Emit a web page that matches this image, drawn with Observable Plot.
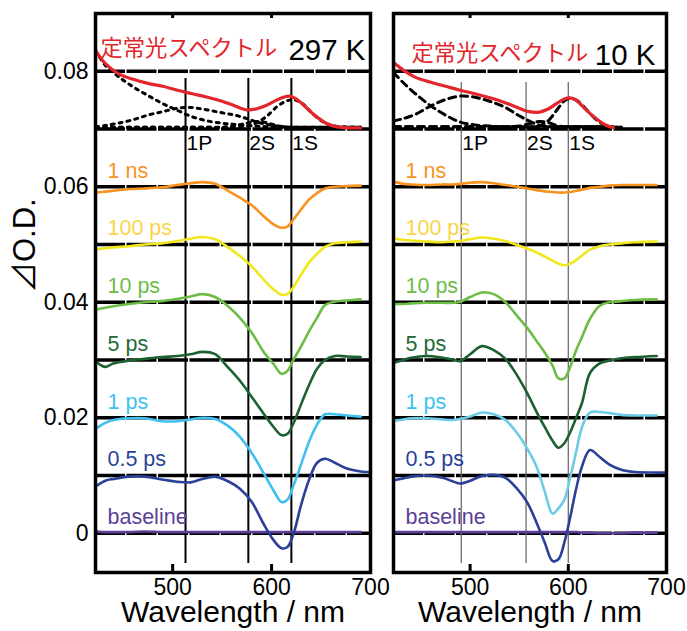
<!DOCTYPE html>
<html><head><meta charset="utf-8">
<script src="https://cdn.jsdelivr.net/npm/d3@7"></script>
<script src="https://cdn.jsdelivr.net/npm/@observablehq/plot@0.6"></script>
<style>
html,body{margin:0;padding:0;background:#fff;}
#wrap{position:relative;width:687px;height:631px;overflow:hidden;background:#fff;}
#wrap svg{position:absolute;top:0;}
</style></head><body><div id="wrap"></div>
<script>
// ---------- data ----------
const seriesNames = ["baseline", "0.5 ps", "1 ps", "5 ps", "10 ps", "100 ps", "1 ns"];
const seriesOffsets = [0, 0.01, 0.02, 0.03, 0.04, 0.05, 0.06];
const labelColors = ["#5b3f98", "#2b3f98", "#3dc2f0", "#1d6a36", "#6cbd45", "#f9d448", "#f7931e"];
const traceColors297 = ["#5b3f98", "#2b4199", "#3ec1ef", "#1c6331", "#6cbd45", "#f0e81c", "#f7931e"];
const traceColors10 = ["#5b3f98", "#2a3f98", "#6ccbe6", "#1a6030", "#6cbd45", "#f0e81c", "#f7931e"];
const gridLevels = [0, 0.01, 0.02, 0.03, 0.04, 0.05, 0.06, 0.07, 0.08];
const yTicks = [0, 0.02, 0.04, 0.06, 0.08];
const xTicks = [500, 600, 700];
const stateNames = ["1P", "2S", "1S"];
const states297 = [513, 576.5, 620];
const states10 = [491, 557, 600];
const steadyLevel = 0.07;

// 297 K transient spectra (ΔO.D. in 1e-3, relative to each offset)
const wl297 = [424, 432, 440, 456, 472, 489, 505, 518, 530, 543, 556, 568, 580, 592, 602, 610, 616, 622, 630, 638, 646, 654, 664, 676, 690, 700];
const base297 = [0.3, 0.2, 0.2, 0.2, 0.3, 0.2, 0.2, 0.2, 0.2, 0.2, 0.2, 0.2, 0.2, 0.2, 0.2, 0.2, 0.2, 0.2, 0.2, 0.2, 0.2, 0.2, 0.2, 0.2, 0.2, null];
const ps05_297 = [-1.7, -0.9, -0.6, -0.2, -0.2, -0.7, -1.1, -1.2, -0.6, -0.2, -1.0, -2.3, -4.6, -8.4, -11.2, -12.6, -12.4, -10.2, -5.0, -0.7, 2.2, 2.9, 2.2, 1.2, 0.7, 0.6];
const ps1_297 = [-1.7, -0.9, -0.4, -0.1, -0.1, -0.6, -0.6, -0.3, 0.0, -0.2, -1.4, -3.3, -6.1, -9.6, -12.6, -14.6, -14.2, -11.8, -8.0, -4.1, -1.2, 0.6, 0.6, 0.4, 0.2, null];
const ps5_297 = [-0.5, -1.2, -0.6, -0.1, 0.2, 0.5, 0.7, 1.0, 1.4, 1.0, -1.3, -3.6, -6.4, -9.3, -11.6, -13.0, -12.8, -11.0, -7.6, -4.3, -1.5, 0.0, 0.7, 0.6, 0.5, null];
const ps10_297 = [-1.2, -0.95, -0.7, -0.3, 0.0, 0.2, 0.6, 1.0, 1.4, 0.9, -0.7, -2.7, -5.3, -8.6, -10.7, -12.4, -11.9, -10.0, -7.6, -5.0, -2.7, -0.5, 0.1, 0.3, 0.5, null];
const ps100_297 = [-0.8, -0.65, -0.5, -0.3, 0.0, 0.2, 0.6, 1.0, 1.3, 0.9, -0.5, -2.0, -3.8, -6.1, -7.8, -8.7, -8.6, -7.4, -5.2, -3.1, -1.6, -0.4, 0.2, 0.4, 0.5, null];
const ns1_297 = [-1.0, -0.85, -0.7, -0.4, -0.3, -0.1, 0.3, 0.6, 0.8, 0.5, -0.7, -1.9, -3.2, -5.1, -6.5, -7.1, -6.9, -5.7, -3.9, -2.2, -1.1, -0.3, 0.0, 0.1, 0.2, null];

// 10 K transient spectra
const wl10 = [424, 432, 440, 456, 472, 482, 490, 500, 512, 524, 536, 548, 558, 568, 576, 584, 590, 596, 602, 608, 614, 622, 632, 642, 654, 668, 690, 700];
const base10 = [0.2, 0.2, 0.2, 0.2, 0.2, 0.2, 0.2, 0.2, 0.2, 0.2, 0.2, 0.2, 0.2, 0.2, 0.2, 0.2, 0.2, 0.2, 0.2, 0.2, 0.1, 0.1, 0.0, 0.0, 0.0, 0.1, 0.1, null];
const ps05_10 = [-0.8, -0.5, -0.2, 0.0, -0.4, -1.0, -1.4, -0.9, -0.1, 0.1, -0.4, -2.3, -4.6, -8.3, -11.6, -14.8, -14.5, -11.6, -7.2, -2.3, 1.6, 4.4, 3.2, 1.9, 1.0, 0.6, 0.5, 0.5];
const ps1_10 = [-0.5, -0.3, -0.1, -0.1, -0.3, -0.4, -0.2, 0.2, 0.9, 0.6, -0.4, -2.7, -5.3, -8.6, -12.8, -16.6, -15.7, -14.2, -10.3, -5.9, -1.6, 0.9, 1.0, 0.8, 0.5, 0.4, 0.4, null];
const ps5_10 = [-0.4, 0.0, 0.4, 0.7, 0.4, 0.1, -0.2, 1.0, 2.4, 1.7, 0.2, -2.7, -5.7, -9.1, -11.6, -14.0, -15.2, -14.4, -12.5, -10.0, -7.4, -2.3, -0.6, -0.1, 0.3, 0.5, 0.7, null];
const ps10_10 = [-0.3, -0.3, -0.2, -0.1, -0.1, -0.1, 0.1, 0.9, 1.7, 1.4, 0.0, -2.4, -4.4, -6.8, -8.7, -11.0, -13.2, -13.2, -11.2, -8.3, -6.0, -2.9, -0.6, 0.0, 0.2, 0.4, 0.5, null];
const ps100_10 = [1.0, 0.8, 0.7, 0.5, 0.4, 0.5, 0.6, 0.9, 1.2, 1.0, 0.6, -0.1, -0.7, -1.4, -2.1, -2.8, -3.3, -3.6, -3.3, -2.7, -1.9, -0.9, -0.3, 0.0, 0.2, 0.4, 0.5, null];
const ns1_10 = [0.8, 0.5, 0.4, 0.3, 0.4, 0.4, 0.5, 0.7, 0.8, 0.6, 0.3, 0.0, -0.3, -0.6, -0.8, -0.9, -1.0, -1.0, -0.9, -0.7, -0.5, -0.2, 0.0, 0.2, 0.3, 0.3, 0.3, null];

// steady-state spectra (1e-3 above the 0.07 level) and fitted components
const wlS297 = [422, 432, 445, 460, 475, 490, 505, 520, 535, 550, 563, 575, 585, 595, 605, 612, 618, 624, 632, 640, 648, 656, 665, 678, 690];
const steady297 = [13.6, 11.3, 9.6, 8.6, 7.9, 7.4, 6.7, 6.1, 5.5, 4.8, 4.0, 3.3, 3.5, 4.1, 5.0, 5.5, 5.7, 5.3, 4.2, 2.9, 1.8, 0.9, 0.4, 0.2, 0.2];
const compDecay297 = [13.6, 11.0, 9.1, 7.3, 5.8, 4.4, 3.2, 2.1, 1.4, 1.0, 0.8, 0.6, 0.5, 0.4, 0.4, 0.3, 0.3, 0.3, 0.3, 0.3, 0.3, 0.3, 0.3, 0.3, 0.3];
const comp1P297 = [0.4, 0.6, 1.0, 1.6, 2.4, 3.0, 3.6, 3.7, 3.3, 2.8, 2.4, 1.8, 1.2, 0.8, 0.5, 0.4, 0.3, 0.3, 0.3, 0.3, 0.3, 0.3, 0.3, 0.3, 0.3];
const comp2S297 = [0.3, 0.3, 0.3, 0.3, 0.3, 0.3, 0.3, 0.3, 0.3, 0.3, 0.6, 1.0, 1.3, 1.1, 0.6, 0.4, 0.3, 0.3, 0.3, 0.3, 0.3, 0.3, 0.3, 0.3, 0.3];
const comp1S297 = [0.3, 0.3, 0.3, 0.3, 0.3, 0.3, 0.3, 0.3, 0.3, 0.3, 0.3, 0.5, 1.1, 2.2, 3.8, 4.6, 5.0, 5.0, 4.3, 2.9, 1.7, 0.9, 0.5, 0.3, 0.3];

const wlS10 = [422, 432, 445, 460, 475, 490, 505, 520, 535, 550, 560, 570, 580, 588, 596, 602, 608, 614, 622, 630, 638, 646, 654];
const steady10 = [11.5, 10.2, 8.9, 8.1, 7.4, 6.7, 6.1, 5.4, 4.6, 3.6, 3.0, 2.9, 3.5, 4.4, 5.2, 5.4, 5.0, 4.0, 2.7, 1.6, 0.7, 0.2, null];
const compDecay10 = [9.8, 8.0, 6.0, 4.0, 2.4, 1.2, 0.7, 0.5, 0.4, 0.4, 0.4, 0.4, 0.4, 0.4, 0.4, 0.4, 0.4, 0.4, 0.4, 0.4, 0.3, 0.3, 0.3];
const comp1P10 = [1.4, 1.8, 2.6, 4.0, 5.1, 5.7, 5.5, 4.8, 3.8, 2.3, 1.4, 0.7, 0.4, 0.4, 0.4, 0.4, 0.4, 0.4, 0.4, 0.4, 0.3, 0.3, 0.3];
const comp2S10 = [0.4, 0.4, 0.4, 0.4, 0.4, 0.4, 0.4, 0.4, 0.4, 0.5, 0.9, 1.3, 1.1, 0.6, 0.4, 0.4, 0.4, 0.4, 0.4, 0.4, 0.3, 0.3, 0.3];
const comp1S10 = [0.4, 0.4, 0.4, 0.4, 0.4, 0.4, 0.4, 0.4, 0.4, 0.4, 0.4, 0.5, 1.5, 3.2, 4.9, 5.3, 5.0, 4.2, 2.7, 1.4, 0.6, 0.3, 0.2];

// ---------- drawing ----------
const LATIN = "'Liberation Sans', Arial, Helvetica, sans-serif";
const CJK = "'Noto Sans CJK JP', 'Noto Sans CJK SC', sans-serif";

function rows(wl, vals, base) {
  return wl.map((w, j) => ({wl: w, v: vals[j] == null ? null : base + vals[j] * 1e-3}))
           .filter(d => d.v != null);
}

function panel(cfg) {
  const marks = [];
  // baseline (offset) lines
  marks.push(Plot.ruleY(gridLevels, {stroke: "black", strokeWidth: 3.5, strokeDasharray: "30 1.5"}));
  // state marker lines
  marks.push(Plot.ruleX(cfg.states, {stroke: cfg.stateColor, strokeWidth: cfg.stateWidth, insetTop: cfg.stateInsetTop, insetBottom: 9}));
  marks.push(Plot.text(cfg.states, {x: d => d, y: () => steadyLevel, text: (d, i) => stateNames[i],
    textAnchor: "start", dx: 1, dy: 14, fontSize: 21, fontFamily: LATIN, fill: "black"}));
  // steady-state components
  cfg.comps.forEach(c => marks.push(Plot.line(rows(cfg.wlS, c, steadyLevel),
    {x: "wl", y: "v", stroke: "black", strokeWidth: 3, strokeDasharray: cfg.compDash, curve: "catmull-rom"})));
  marks.push(Plot.line(rows(cfg.wlS, cfg.steady, steadyLevel),
    {x: "wl", y: "v", stroke: "#e3262b", strokeWidth: 3.2, curve: "catmull-rom"}));
  // transient traces
  cfg.traces.forEach((vals, i) => {
    marks.push(Plot.line(rows(cfg.wl, vals, seriesOffsets[i]),
      {x: "wl", y: "v", stroke: cfg.colors[i], strokeWidth: 2.6, curve: "catmull-rom"}));
    marks.push(Plot.text([seriesNames[i]], {y: () => seriesOffsets[i], frameAnchor: "left", text: d => d,
      textAnchor: "start", dx: 12, dy: -16, fontSize: 21.5, fontFamily: LATIN, fill: labelColors[i]}));
  });
  // titles
  marks.push(Plot.text(["定常光スペクトル"], {frameAnchor: "top-left", text: d => d, textAnchor: "start",
    dx: cfg.titleDx, dy: cfg.titleDy, fontSize: 22.3, fontFamily: CJK, fill: "#e3262b"}));
  marks.push(Plot.text([cfg.temp], {frameAnchor: "top-right", text: d => d, textAnchor: "end",
    dx: cfg.tempDx, dy: cfg.titleDy - 1, fontSize: 29.5, fontFamily: LATIN, fill: "black"}));
  // frame and frame ticks
  marks.push(Plot.frame({stroke: "black", strokeWidth: 3.5}));
  marks.push(Plot.ruleX(xTicks.filter(t => t < 700), {stroke: "black", strokeWidth: 3, insetTop: 551}));
  marks.push(Plot.ruleX(xTicks.filter(t => t < 700), {stroke: "black", strokeWidth: 3, insetBottom: 554}));
  // x label
  marks.push(Plot.text(["Wavelength / nm"], {frameAnchor: "bottom", text: d => d, dy: 49,
    fontSize: 30, fontFamily: LATIN, fill: "black"}));
  if (cfg.yLabel) {
    marks.push(Plot.text(["⊿O.D."], {frameAnchor: "left", text: d => d, dx: -70, rotate: -90,
      fontSize: 31, fontFamily: LATIN + ", " + CJK, fill: "black"}));
  }
  return Plot.plot({
    width: cfg.width, height: 631,
    marginLeft: cfg.marginLeft, marginRight: cfg.marginRight, marginTop: 13, marginBottom: 59,
    style: {background: "transparent", overflow: "visible", fontSize: "23px", fontFamily: LATIN, color: "black"},
    x: {domain: [422, 700], ticks: xTicks, tickSize: 0, tickPadding: 6, label: null, tickFormat: d => String(d)},
    y: cfg.yLabel
      ? {domain: [-0.0068, 0.090], ticks: yTicks, tickSize: 0, tickPadding: 7, label: null,
         tickFormat: d => d === 0 ? "0" : d.toFixed(2)}
      : {domain: [-0.0068, 0.090], axis: null},
    marks
  });
}

const left = panel({
  width: 385, marginLeft: 95, marginRight: 15, yLabel: true,
  wl: wl297, traces: [base297, ps05_297, ps1_297, ps5_297, ps10_297, ps100_297, ns1_297],
  colors: traceColors297, states: states297, stateColor: "black", stateWidth: 2, stateInsetTop: 65,
  wlS: wlS297, steady: steady297, comps: [compDecay297, comp1P297, comp2S297, comp1S297], compDash: "3 5",
  temp: "297 K", titleDx: 5, titleDy: 27, tempDx: -5
});
const right = panel({
  width: 307, marginLeft: 13, marginRight: 21, yLabel: false,
  wl: wl10, traces: [base10, ps05_10, ps1_10, ps5_10, ps10_10, ps100_10, ns1_10],
  colors: traceColors10, states: states10, stateColor: "#6b6b6b", stateWidth: 1.3, stateInsetTop: 69,
  wlS: wlS10, steady: steady10, comps: [compDecay10, comp1P10, comp2S10, comp1S10], compDash: "7 5",
  temp: "10 K", titleDx: 18, titleDy: 32, tempDx: -11
});
left.style.left = "0px";
right.style.left = "380px";
const wrap = document.getElementById("wrap");
wrap.appendChild(right);
wrap.appendChild(left);
</script></body></html>
